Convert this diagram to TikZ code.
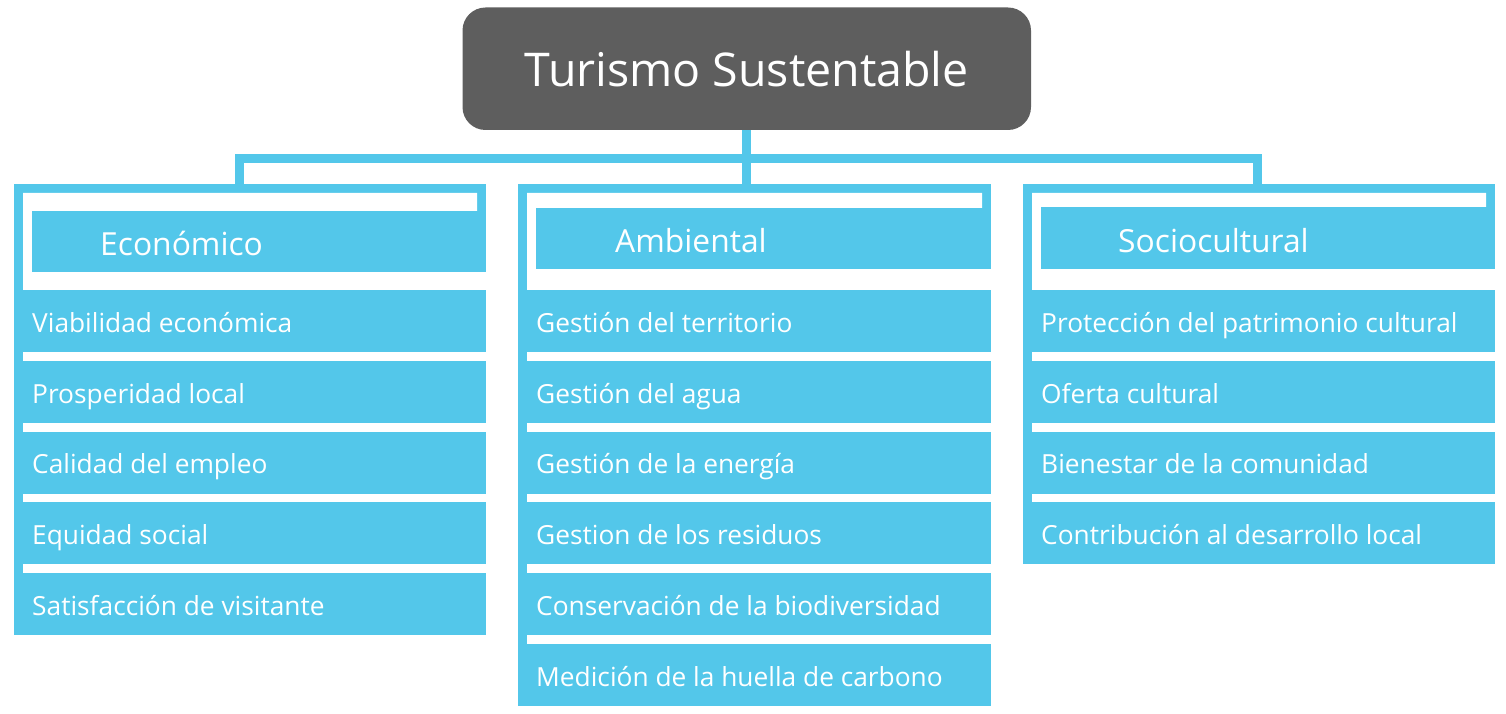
\documentclass[tikz,border=0pt]{standalone}
\usepackage{fontspec}
\setmainfont{Open Sans}
\definecolor{cy}{HTML}{53C7EA}
\definecolor{dg}{HTML}{5E5E5E}
\begin{document}
\begin{tikzpicture}[x=1pt,y=-1pt,
  frame/.style={fill=cy, draw=none, inner sep=0pt, outer sep=0pt},
  inset/.style={fill=white, draw=none},
  conn/.style={draw=cy, line width=9pt},
  itemtxt/.style={text=white, font=\fontsize{26.3}{30}\selectfont, anchor=base west, inner sep=0pt},
  hdrtxt/.style={text=white, font=\fontsize{31.8}{36}\selectfont, anchor=base west, inner sep=0pt}]
\useasboundingbox (0,0) rectangle (1506,714);

% title
\node[fill=dg, rounded corners=23pt, minimum width=568.5pt, minimum height=122.5pt,
      inner sep=0pt, text=white, font=\fontsize{46.5}{50}\selectfont] (title) at (746.75,68.75) {Turismo Sustentable};

% column frames
\node[frame, minimum width=472pt, minimum height=451pt] (colA) at (250,409.5) {};
\node[frame, minimum width=473pt, minimum height=522pt] (colB) at (754.5,445) {};
\node[frame, minimum width=472pt, minimum height=380pt] (colC) at (1259,374) {};

% connectors
\coordinate (hl) at (239.5,158.5);
\coordinate (hr) at (1257.5,158.5);
\draw[conn] (title.south) -- (title.south |- colB.north);
\draw[conn] (colA.north -| hl) -- (hl) -- (hr) -- (colC.north -| hr);

% white insets
\fill[inset] (23,193) -- (477,193) -- (477,211) -- (486,211) -- (486,573) -- (23,573) -- cycle;
\fill[inset] (527,193) -- (982,193) -- (982,208) -- (991,208) -- (991,644) -- (527,644) -- cycle;
\fill[inset] (1032,193) -- (1486,193) -- (1486,207) -- (1495,207) -- (1495,503) -- (1032,503) -- cycle;

% headers
\node[frame, minimum width=454pt, minimum height=61pt] (hA) at (259,241.5) {};
\node[frame, minimum width=455pt, minimum height=61pt] (hB) at (763.5,238.5) {};
\node[frame, minimum width=454pt, minimum height=62pt] (hC) at (1268,238) {};
\node[hdrtxt] (hAt) at (100,255) {Económico};
\node[hdrtxt] (hBt) at (615,252) {Ambiental};
\node[hdrtxt] (hCt) at (1118,252) {Sociocultural};

% rows
\foreach \t/\y [count=\i] in {Viabilidad económica/321, Prosperidad local/392, Calidad del empleo/462.5, Equidad social/533, Satisfacción de visitante/604}{
  \node[frame, minimum width=463pt, minimum height=62pt] (a\i) at (254.5,\y) {};
  \node[itemtxt] (at\i) at ([xshift=9pt,yshift=-11pt]a\i.west) {\t};
}
\foreach \t/\y [count=\i] in {Gestión del territorio/321, Gestión del agua/392, Gestión de la energía/462.5, Gestion de los residuos/533, Conservación de la biodiversidad/604, Medición de la huella de carbono/675}{
  \node[frame, minimum width=464pt, minimum height=62pt] (b\i) at (759,\y) {};
  \node[itemtxt] (bt\i) at ([xshift=9pt,yshift=-11pt]b\i.west) {\t};
}
\foreach \t/\y [count=\i] in {Protección del patrimonio cultural/321, Oferta cultural/392, Bienestar de la comunidad/462.5, Contribución al desarrollo local/533}{
  \node[frame, minimum width=463pt, minimum height=62pt] (c\i) at (1263.5,\y) {};
  \node[itemtxt] (ct\i) at ([xshift=9pt,yshift=-11pt]c\i.west) {\t};
}
\end{tikzpicture}
\end{document}
